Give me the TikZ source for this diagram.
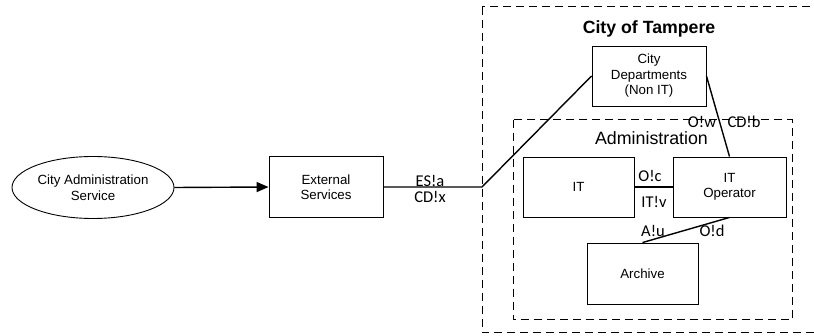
\documentclass[tikz,border=0pt]{standalone}
\usepackage{fontspec}
\setmainfont{Liberation Sans}
\newfontfamily\labfont{Carlito}
\usetikzlibrary{shapes.geometric,arrows.meta}
\tikzset{
  box/.style={draw, line width=0.9pt, rectangle, inner sep=0pt, align=center,
    font=\fontsize{13.3}{15.5}\selectfont},
  conn/.style={line width=1.4pt},
  grp/.style={draw, dashed, line width=1pt, dash pattern=on 8pt off 5pt},
  lab/.style={inner sep=0pt, font=\labfont\fontsize{16.5}{18}\selectfont},
}
\begin{document}
\begin{tikzpicture}[x=1pt,y=-1pt]
\useasboundingbox (0,0) rectangle (814,336);
% groups
\draw[grp] (482,7) rectangle (840,333);
\draw[grp] (513,120) rectangle (792,320);
\node[font=\bfseries\fontsize{17.7}{20}\selectfont] (title) at (649,28.5) {City of Tampere};
\node[font=\fontsize{17.8}{20}\selectfont, inner sep=0pt] (admt) at (651.5,138) {Administration};
% nodes
\node[draw, line width=0.9pt, ellipse, minimum width=162pt, minimum height=62pt, inner sep=0pt, align=center,
  font=\fontsize{13.3}{16}\selectfont] (cas) at (93,187.5) {City Administration\\Service};
\node[box, minimum width=114pt, minimum height=61pt] (es) at (326,187) {External\\Services};
\node[box, minimum width=114pt, minimum height=60pt] (cd) at (649,76) {City\\Departments\\(Non IT)};
\node[box, minimum width=111pt, minimum height=60pt] (it) at (578.5,187) {IT};
\node[box, minimum width=113pt, minimum height=60pt] (op) at (729.5,187) {IT\\Operator};
\node[box, minimum width=111pt, minimum height=61pt] (ar) at (642.5,273.5) {Archive};
% connectors
\coordinate (jn) at (482,187);
\draw[conn, -{Triangle[length=12pt,width=10pt]}] (cas.east) -- (es.west);
\draw[conn] (es.east) -- (jn) -- (cd.west);
\draw[conn] (cd.east) -- (op.north);
\draw[conn] (it.east) -- (op.west);
\draw[conn] (ar.north) -- (op.south);
% labels
\node[lab] (l1) at (430,180.5) {ES!a};
\node[lab] (l2) at (430,197) {CD!x};
\node[lab] (l3) at (702,122) {O!w};
\node[lab] (l4) at (744,122) {CD!b};
\node[lab] (l5) at (650,176) {O!c};
\node[lab] (l6) at (654,201.5) {IT!v};
\node[lab] (l7) at (653,230.5) {A!u};
\node[lab] (l8) at (712,230.5) {O!d};
\end{tikzpicture}
\end{document}
